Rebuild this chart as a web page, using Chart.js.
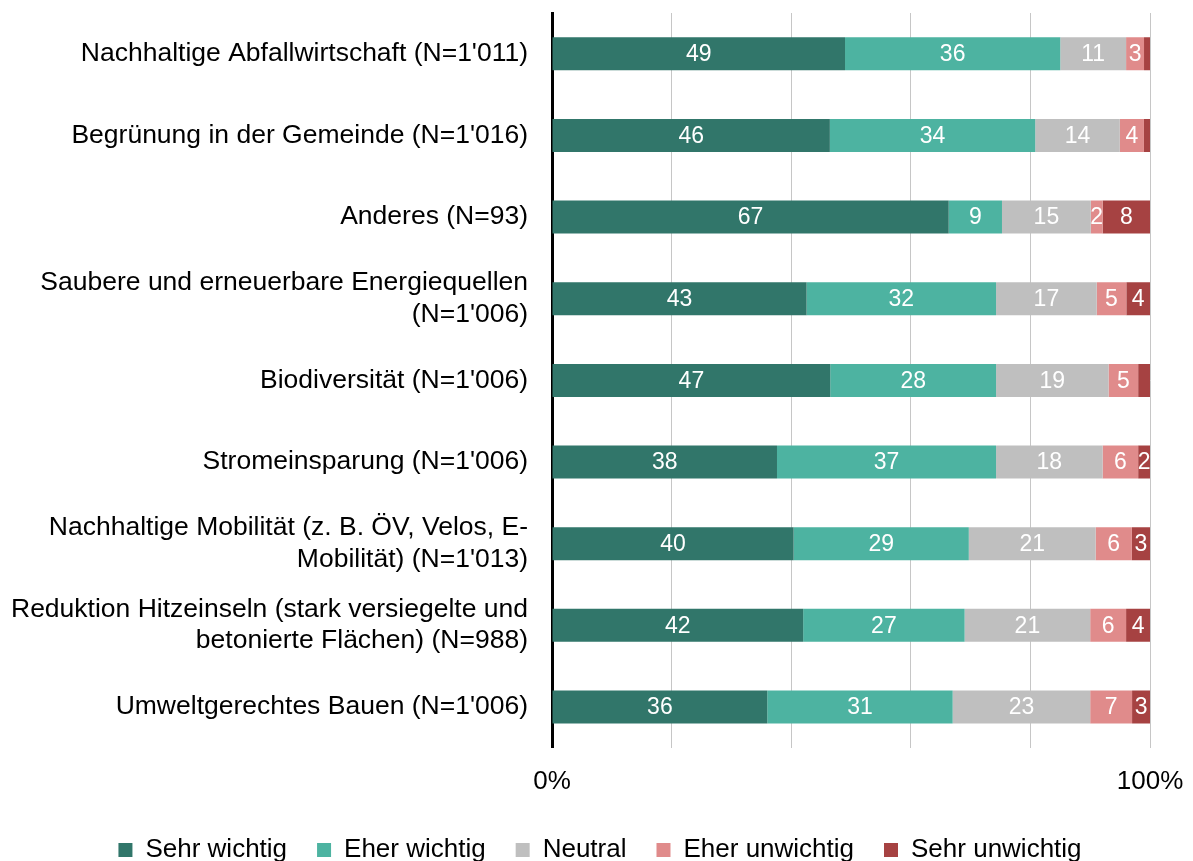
<!DOCTYPE html>
<html>
<head>
<meta charset="utf-8">
<script src="https://cdn.jsdelivr.net/npm/chart.js@4/dist/chart.umd.min.js"></script>
<style>
  html, body { margin: 0; padding: 0; background: #fff; }
  #wrap { width: 1193px; height: 861px; }
</style>
</head>
<body>
<div id="wrap"><canvas id="chart" width="1193" height="861"></canvas></div>
<script>
// categories (top to bottom)
const categories = [
  "Nachhaltige Abfallwirtschaft (N=1'011)",
  "Begrünung in der Gemeinde (N=1'016)",
  "Anderes (N=93)",
  ["Saubere und erneuerbare Energiequellen", "(N=1'006)"],
  "Biodiversität (N=1'006)",
  "Stromeinsparung (N=1'006)",
  ["Nachhaltige Mobilität (z. B. ÖV, Velos, E-", "Mobilität) (N=1'013)"],
  ["Reduktion Hitzeinseln (stark versiegelte und", "betonierte Flächen) (N=988)"],
  "Umweltgerechtes Bauen (N=1'006)"
];

// answers in percent, one array per answer
const sehrWichtig   = [49, 46, 67, 43, 47, 38, 40, 42, 36];
const eherWichtig   = [36, 34,  9, 32, 28, 37, 29, 27, 31];
const neutral       = [11, 14, 15, 17, 19, 18, 21, 21, 23];
const eherUnwichtig = [ 3,  4,  2,  5,  5,  6,  6,  6,  7];
const sehrUnwichtig = [ 1,  1,  8,  4,  2,  2,  3,  4,  3];

const seriesNames  = ["Sehr wichtig", "Eher wichtig", "Neutral", "Eher unwichtig", "Sehr unwichtig"];
const seriesColors = ["#31766a", "#4db3a1", "#bfbfbf", "#e08b8b", "#a64242"];

// value labels that are not printed in the original (segment too thin)
const hiddenLabels = ["0-4", "1-4", "4-4"];

const xTicks = [0, 100];

const allSeries = [sehrWichtig, eherWichtig, neutral, eherUnwichtig, sehrUnwichtig];
const rowSums = categories.map((_, i) => allSeries.reduce((s, arr) => s + arr[i], 0));

const datasets = allSeries.map((arr, k) => ({
  label: seriesNames[k],
  raw: arr,
  data: arr.map((v, i) => v / rowSums[i] * 100),
  backgroundColor: seriesColors[k],
  borderWidth: 0,
  barPercentage: 0.8,
  categoryPercentage: 0.505
}));

const fontFamily = "'Liberation Sans', Arial, sans-serif";

// white numbers centered in each segment, clipped at the plot edge
const valueLabels = {
  id: "valueLabels",
  afterDatasetsDraw(chart) {
    const ctx = chart.ctx;
    const area = chart.chartArea;
    ctx.save();
    ctx.beginPath();
    ctx.rect(area.left, area.top, area.right - area.left, area.bottom - area.top);
    ctx.clip();
    ctx.fillStyle = "#fff";
    ctx.font = "23px " + fontFamily;
    ctx.textAlign = "center";
    ctx.textBaseline = "middle";
    chart.data.datasets.forEach((ds, k) => {
      chart.getDatasetMeta(k).data.forEach((bar, i) => {
        if (hiddenLabels.includes(i + "-" + k)) return;
        const cx = (bar.x + bar.base) / 2;
        ctx.fillText(String(ds.raw[i]), cx, bar.y + 1);
      });
    });
    ctx.restore();
  }
};

// move the legend down and center it on the whole page, like in the original
const legendShift = {
  id: "legendShift",
  afterLayout(chart) {
    const lg = chart.legend;
    lg.top += 12;
    lg.bottom += 12;
    lg.left += 25;
    lg.right += 25;
  }
};

const font = { family: fontFamily, size: 26 };

new Chart(document.getElementById("chart"), {
  type: "bar",
  data: { labels: categories, datasets: datasets },
  options: {
    indexAxis: "y",
    responsive: false,
    animation: false,
    layout: { padding: { top: 13, right: 43, left: 0, bottom: 0 } },
    scales: {
      x: {
        stacked: true,
        min: 0,
        max: 100,
        grid: { color: "#c6c6c6", lineWidth: 1, drawTicks: false },
        border: { display: false },
        ticks: {
          stepSize: 20,
          padding: 18,
          color: "#000",
          font: font,
          maxRotation: 0,
          callback: v => xTicks.includes(v) ? v + "%" : ""
        },
        afterFit: scale => {
          scale.height -= 20;
          scale.paddingLeft = 0;
          scale.paddingRight = 0;
        }
      },
      y: {
        stacked: true,
        grid: { display: false },
        border: { display: true, color: "#000", width: 3 },
        ticks: { color: "#000", font: { ...font, size: 26.5, lineHeight: 1.18 }, padding: 16 },
        afterFit: scale => {
          scale.width = 552;
          scale.paddingTop = 0;
          scale.paddingBottom = 0;
        }
      }
    },
    plugins: {
      legend: {
        position: "bottom",
        labels: {
          color: "#000",
          font: font,
          boxWidth: 14,
          boxHeight: 14,
          padding: 30
        }
      },
      tooltip: { enabled: false }
    }
  },
  plugins: [valueLabels, legendShift]
});
</script>
</body>
</html>
